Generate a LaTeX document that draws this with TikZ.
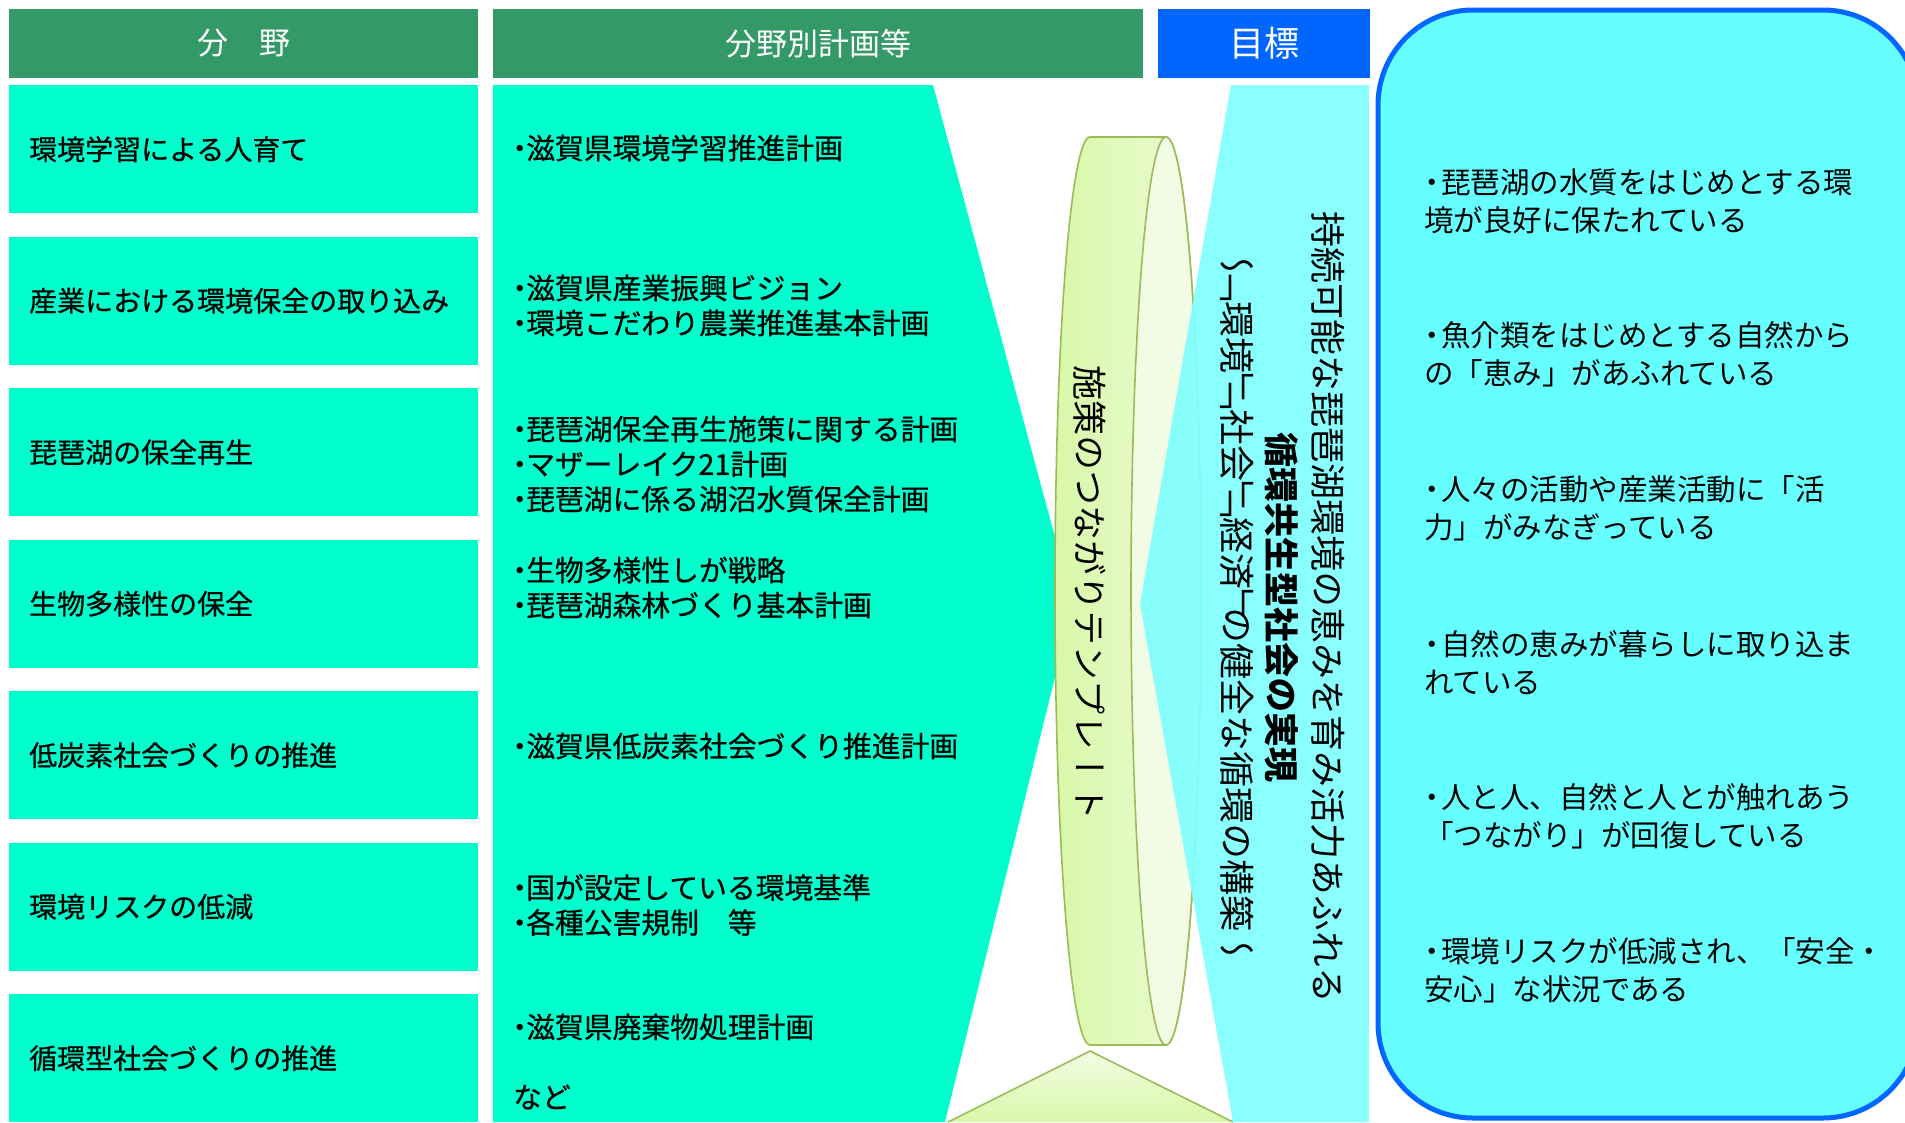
\documentclass[tikz,border=0pt]{standalone}
\usepackage{fontspec}
\setmainfont{Noto Sans CJK JP}
\newfontfamily\mfont[FakeBold=0.6]{Noto Sans CJK JP}
\newfontfamily\tate[Vertical=RotatedGlyphs]{Noto Sans CJK JP}
\definecolor{hgreen}{RGB}{51,153,102}
\definecolor{hblue}{RGB}{0,102,255}
\definecolor{cgreen}{RGB}{0,255,204}
\definecolor{lcyan}{RGB}{128,255,255}
\definecolor{bcyan}{RGB}{102,255,255}
\definecolor{olivec}{RGB}{155,187,89}
\definecolor{cylA}{RGB}{216,248,168}
\definecolor{cylB}{RGB}{236,251,214}
\definecolor{facec}{RGB}{242,252,228}
\tikzset{
  hdr/.style={fill=hgreen, text=white, inner sep=0pt, minimum height=69pt, font=\fontsize{31}{34}\selectfont},
  lbox/.style={fill=cgreen, anchor=north west, minimum height=128pt, text width=429pt, inner xsep=20pt, inner ysep=0pt, align=left, font=\mfont\fontsize{28}{34}\selectfont},
  mtxt/.style={anchor=west, inner sep=0pt, align=left, font=\mfont\fontsize{28.8}{35}\selectfont},
  rtxt/.style={anchor=west, inner sep=0pt, align=left, font=\fontsize{29.5}{38}\selectfont},
  vtxt/.style={rotate=-90, inner sep=0pt},
}
\newcommand{\mb}{\makebox[13pt][c]{・}}
\newcommand{\rb}{\makebox[17pt][c]{・}}
\newcommand{\ob}{\kern-18pt「}
\newcommand{\cb}{」\kern-18pt}
\begin{document}
\begin{tikzpicture}[x=1pt,y=1pt]
\useasboundingbox (0,0) rectangle (1905,-1122);
\fill[white] (0,0) rectangle (1905,-1122);
% headers
\node[hdr, minimum width=469pt] (h1) at (243.5,-43.5) {分　野};
\node[hdr, minimum width=650pt] (h2) at (818,-43.5) {分野別計画等};
\node[hdr, fill=hblue, minimum width=212pt, font=\fontsize{35}{38}\selectfont] (h3) at (1264,-43.5) {目標};
% big rounded box
\draw[draw=hblue, line width=5pt, fill=bcyan, rounded corners=95pt] (1378,-10) rectangle (1918,-1118);
% left boxes
\node[lbox] (l1) at (9,-85) {環境学習による人育て};
\node[lbox] (l2) at (9,-236.5) {産業における環境保全の取り込み};
\node[lbox] (l3) at (9,-388) {琵琶湖の保全再生};
\node[lbox] (l4) at (9,-539.5) {生物多様性の保全};
\node[lbox] (l5) at (9,-691) {低炭素社会づくりの推進};
\node[lbox] (l6) at (9,-842.5) {環境リスクの低減};
\node[lbox] (l7) at (9,-994) {循環型社会づくりの推進};
% middle polygon
\fill[cgreen] (493,-85) -- (933,-85) -- (1073,-604) -- (945,-1122) -- (493,-1122) -- cycle;
% cylinder
\shadedraw[draw=olivec, line width=1.6pt, left color=cylA, right color=cylB]
  (1166,-137) -- (1090,-137) arc[start angle=90, end angle=270, x radius=35, y radius=454]
  -- (1166,-1045) arc[start angle=270, end angle=450, x radius=35, y radius=454] -- cycle;
\draw[draw=olivec, line width=1.6pt, fill=facec] (1166,-591) ellipse[x radius=35, y radius=454];
% bottom triangle
\shade[top color=facec, bottom color=cylA] (948,-1122) -- (1090,-1051) -- (1233,-1122) -- cycle;
\draw[olivec, line width=1.6pt] (948,-1122) -- (1090,-1051) -- (1233,-1122);
% right cyan polygon
\fill[lcyan, fill opacity=0.92] (1231,-85) -- (1369,-85) -- (1369,-1122) -- (1233,-1122) -- (1140,-604) -- cycle;
% middle texts
\node[mtxt] (m1) at (513,-148) {\mb 滋賀県環境学習推進計画};
\node[mtxt] (m2) at (513,-305.5) {\mb 滋賀県産業振興ビジョン\\\mb 環境こだわり農業推進基本計画};
\node[mtxt] (m3) at (513,-464) {\mb 琵琶湖保全再生施策に関する計画\\\mb マザーレイク21計画\\\mb 琵琶湖に係る湖沼水質保全計画};
\node[mtxt] (m4) at (513,-587.5) {\mb 生物多様性しが戦略\\\mb 琵琶湖森林づくり基本計画};
\node[mtxt] (m5) at (513,-746) {\mb 滋賀県低炭素社会づくり推進計画};
\node[mtxt] (m6) at (513,-905) {\mb 国が設定している環境基準\\\mb 各種公害規制　等};
\node[mtxt] (m7) at (513,-1027) {\mb 滋賀県廃棄物処理計画};
\node[mtxt] (m8) at (513,-1097) {など};
% vertical texts
\node[vtxt, font=\tate\fontsize{35}{38}\selectfont] (c0) at (1090,-593) {施策のつながりテンプレート};
\node[vtxt, font=\tate\fontsize{36}{40}\selectfont] (g1) at (1328,-607) {持続可能な琵琶湖環境の恵みを育み活力あふれる};
\node[vtxt, font=\tate\bfseries\fontsize{35}{40}\selectfont] (g2) at (1282,-607) {循環共生型社会の実現};
\node[vtxt, font=\tate\fontsize{36}{40}\selectfont] (g3) at (1237,-607) {～\ob 環境\cb\ob 社会\cb\ob 経済\cb の健全な循環の構築～};
% right box texts
\node[rtxt] (r1) at (1424,-201.5) {\rb 琵琶湖の水質をはじめとする環\\境が良好に保たれている};
\node[rtxt] (r2) at (1424,-354) {\rb 魚介類をはじめとする自然から\\の「恵み」があふれている};
\node[rtxt] (r3) at (1424,-508.5) {\rb 人々の活動や産業活動に「活\\力」がみなぎっている};
\node[rtxt] (r4) at (1424,-663) {\rb 自然の恵みが暮らしに取り込ま\\れている};
\node[rtxt] (r5) at (1424,-816) {\rb 人と人、自然と人とが触れあう\\「つながり」が回復している};
\node[rtxt] (r6) at (1424,-970) {\rb 環境リスクが低減され、「安全・\\安心」な状況である};
\end{tikzpicture}
\end{document}
